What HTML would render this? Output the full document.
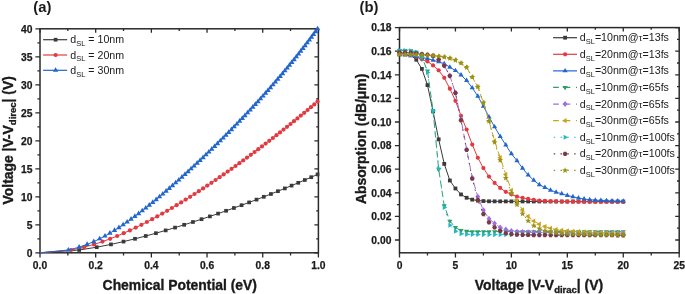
<!DOCTYPE html>
<html><head><meta charset="utf-8"><style>
html,body{margin:0;padding:0;background:#fff;}
svg{display:block;filter:blur(0.3px);}
text{font-family:"Liberation Sans",sans-serif;}
</style></head><body>
<svg width="685" height="294" viewBox="0 0 685 294">
<rect width="685" height="294" fill="#fff"/>
<path d="M40.00 252.8v4.6M40.00 28.8v4M95.68 252.8v4.6M95.68 28.8v4M151.36 252.8v4.6M151.36 28.8v4M207.04 252.8v4.6M207.04 28.8v4M262.72 252.8v4.6M262.72 28.8v4M318.40 252.8v4.6M318.40 28.8v4M67.84 252.8v2.6M67.84 28.8v2.2M123.52 252.8v2.6M123.52 28.8v2.2M179.20 252.8v2.6M179.20 28.8v2.2M234.88 252.8v2.6M234.88 28.8v2.2M290.56 252.8v2.6M290.56 28.8v2.2M35.4 252.80h4.6M318.4 252.80h-4M35.4 224.80h4.6M318.4 224.80h-4M35.4 196.80h4.6M318.4 196.80h-4M35.4 168.80h4.6M318.4 168.80h-4M35.4 140.80h4.6M318.4 140.80h-4M35.4 112.80h4.6M318.4 112.80h-4M35.4 84.80h4.6M318.4 84.80h-4M35.4 56.80h4.6M318.4 56.80h-4M35.4 28.80h4.6M318.4 28.80h-4M37.4 238.80h2.6M318.4 238.80h-2.2M37.4 210.80h2.6M318.4 210.80h-2.2M37.4 182.80h2.6M318.4 182.80h-2.2M37.4 154.80h2.6M318.4 154.80h-2.2M37.4 126.80h2.6M318.4 126.80h-2.2M37.4 98.80h2.6M318.4 98.80h-2.2M37.4 70.80h2.6M318.4 70.80h-2.2M37.4 42.80h2.6M318.4 42.80h-2.2" stroke="#2a2a2a" stroke-width="1.3" fill="none"/><rect x="40.0" y="28.8" width="278.40" height="224.00" fill="none" stroke="#2a2a2a" stroke-width="1.5"/>
<text x="32.4" y="256.50" text-anchor="end" font-weight="bold" font-size="10.3" fill="#1a1a1a" stroke="#1a1a1a" stroke-width="0.25">0</text>
<text x="32.4" y="228.50" text-anchor="end" font-weight="bold" font-size="10.3" fill="#1a1a1a" stroke="#1a1a1a" stroke-width="0.25">5</text>
<text x="32.4" y="200.50" text-anchor="end" font-weight="bold" font-size="10.3" fill="#1a1a1a" stroke="#1a1a1a" stroke-width="0.25">10</text>
<text x="32.4" y="172.50" text-anchor="end" font-weight="bold" font-size="10.3" fill="#1a1a1a" stroke="#1a1a1a" stroke-width="0.25">15</text>
<text x="32.4" y="144.50" text-anchor="end" font-weight="bold" font-size="10.3" fill="#1a1a1a" stroke="#1a1a1a" stroke-width="0.25">20</text>
<text x="32.4" y="116.50" text-anchor="end" font-weight="bold" font-size="10.3" fill="#1a1a1a" stroke="#1a1a1a" stroke-width="0.25">25</text>
<text x="32.4" y="88.50" text-anchor="end" font-weight="bold" font-size="10.3" fill="#1a1a1a" stroke="#1a1a1a" stroke-width="0.25">30</text>
<text x="32.4" y="60.50" text-anchor="end" font-weight="bold" font-size="10.3" fill="#1a1a1a" stroke="#1a1a1a" stroke-width="0.25">35</text>
<text x="32.4" y="32.50" text-anchor="end" font-weight="bold" font-size="10.3" fill="#1a1a1a" stroke="#1a1a1a" stroke-width="0.25">40</text>
<text x="40.00" y="269" text-anchor="middle" font-weight="bold" font-size="10.3" fill="#1a1a1a" stroke="#1a1a1a" stroke-width="0.25">0.0</text>
<text x="95.68" y="269" text-anchor="middle" font-weight="bold" font-size="10.3" fill="#1a1a1a" stroke="#1a1a1a" stroke-width="0.25">0.2</text>
<text x="151.36" y="269" text-anchor="middle" font-weight="bold" font-size="10.3" fill="#1a1a1a" stroke="#1a1a1a" stroke-width="0.25">0.4</text>
<text x="207.04" y="269" text-anchor="middle" font-weight="bold" font-size="10.3" fill="#1a1a1a" stroke="#1a1a1a" stroke-width="0.25">0.6</text>
<text x="262.72" y="269" text-anchor="middle" font-weight="bold" font-size="10.3" fill="#1a1a1a" stroke="#1a1a1a" stroke-width="0.25">0.8</text>
<text x="318.40" y="269" text-anchor="middle" font-weight="bold" font-size="10.3" fill="#1a1a1a" stroke="#1a1a1a" stroke-width="0.25">1.0</text>
<path d="M40.00 252.80L79.17 250.00L96.75 247.20L110.97 244.40L123.51 241.60L135.00 238.80L145.74 236.00L155.93 233.20L165.67 230.40L175.06 227.60L184.14 224.80L192.95 222.00L201.53 219.20L209.90 216.40L218.08 213.60L226.08 210.80L233.91 208.00L241.59 205.20L249.13 202.40L256.53 199.60L263.79 196.80L270.93 194.00L277.94 191.20L284.83 188.40L291.60 185.60L298.26 182.80L304.81 180.00L311.24 177.20L317.56 174.40" fill="none" stroke="#3a3a3a" stroke-width="1.0" stroke-linejoin="round"/>
<rect x="77.32" y="248.15" width="3.70" height="3.70" fill="#3a3a3a"/><rect x="94.90" y="245.35" width="3.70" height="3.70" fill="#3a3a3a"/><rect x="109.12" y="242.55" width="3.70" height="3.70" fill="#3a3a3a"/><rect x="121.66" y="239.75" width="3.70" height="3.70" fill="#3a3a3a"/><rect x="133.15" y="236.95" width="3.70" height="3.70" fill="#3a3a3a"/><rect x="143.89" y="234.15" width="3.70" height="3.70" fill="#3a3a3a"/><rect x="154.08" y="231.35" width="3.70" height="3.70" fill="#3a3a3a"/><rect x="163.82" y="228.55" width="3.70" height="3.70" fill="#3a3a3a"/><rect x="173.21" y="225.75" width="3.70" height="3.70" fill="#3a3a3a"/><rect x="182.29" y="222.95" width="3.70" height="3.70" fill="#3a3a3a"/><rect x="191.10" y="220.15" width="3.70" height="3.70" fill="#3a3a3a"/><rect x="199.68" y="217.35" width="3.70" height="3.70" fill="#3a3a3a"/><rect x="208.05" y="214.55" width="3.70" height="3.70" fill="#3a3a3a"/><rect x="216.23" y="211.75" width="3.70" height="3.70" fill="#3a3a3a"/><rect x="224.23" y="208.95" width="3.70" height="3.70" fill="#3a3a3a"/><rect x="232.06" y="206.15" width="3.70" height="3.70" fill="#3a3a3a"/><rect x="239.74" y="203.35" width="3.70" height="3.70" fill="#3a3a3a"/><rect x="247.28" y="200.55" width="3.70" height="3.70" fill="#3a3a3a"/><rect x="254.68" y="197.75" width="3.70" height="3.70" fill="#3a3a3a"/><rect x="261.94" y="194.95" width="3.70" height="3.70" fill="#3a3a3a"/><rect x="269.08" y="192.15" width="3.70" height="3.70" fill="#3a3a3a"/><rect x="276.09" y="189.35" width="3.70" height="3.70" fill="#3a3a3a"/><rect x="282.98" y="186.55" width="3.70" height="3.70" fill="#3a3a3a"/><rect x="289.75" y="183.75" width="3.70" height="3.70" fill="#3a3a3a"/><rect x="296.41" y="180.95" width="3.70" height="3.70" fill="#3a3a3a"/><rect x="302.96" y="178.15" width="3.70" height="3.70" fill="#3a3a3a"/><rect x="309.39" y="175.35" width="3.70" height="3.70" fill="#3a3a3a"/><rect x="315.71" y="172.55" width="3.70" height="3.70" fill="#3a3a3a"/>
<path d="M40.00 252.80L71.11 250.00L83.99 247.20L93.99 244.40L102.53 241.60L110.17 238.80L117.18 236.00L123.72 233.20L129.89 230.40L135.78 227.60L141.42 224.80L146.87 222.00L152.14 219.20L157.26 216.40L162.25 213.60L167.13 210.80L171.90 208.00L176.58 205.20L181.17 202.40L185.69 199.60L190.13 196.80L194.51 194.00L198.83 191.20L203.09 188.40L207.30 185.60L211.46 182.80L215.57 180.00L219.64 177.20L223.67 174.40L227.66 171.60L231.60 168.80L235.52 166.00L239.39 163.20L243.23 160.40L247.04 157.60L250.82 154.80L254.57 152.00L258.29 149.20L261.98 146.40L265.64 143.60L269.27 140.80L272.88 138.00L276.46 135.20L280.02 132.40L283.55 129.60L287.05 126.80L290.53 124.00L293.99 121.20L297.43 118.40L300.84 115.60L304.23 112.80L307.60 110.00L310.94 107.20L314.26 104.40L317.56 101.60" fill="none" stroke="#e23a40" stroke-width="1.0" stroke-linejoin="round"/>
<circle cx="71.11" cy="250.00" r="2.10" fill="#e23a40"/><circle cx="83.99" cy="247.20" r="2.10" fill="#e23a40"/><circle cx="93.99" cy="244.40" r="2.10" fill="#e23a40"/><circle cx="102.53" cy="241.60" r="2.10" fill="#e23a40"/><circle cx="110.17" cy="238.80" r="2.10" fill="#e23a40"/><circle cx="117.18" cy="236.00" r="2.10" fill="#e23a40"/><circle cx="123.72" cy="233.20" r="2.10" fill="#e23a40"/><circle cx="129.89" cy="230.40" r="2.10" fill="#e23a40"/><circle cx="135.78" cy="227.60" r="2.10" fill="#e23a40"/><circle cx="141.42" cy="224.80" r="2.10" fill="#e23a40"/><circle cx="146.87" cy="222.00" r="2.10" fill="#e23a40"/><circle cx="152.14" cy="219.20" r="2.10" fill="#e23a40"/><circle cx="157.26" cy="216.40" r="2.10" fill="#e23a40"/><circle cx="162.25" cy="213.60" r="2.10" fill="#e23a40"/><circle cx="167.13" cy="210.80" r="2.10" fill="#e23a40"/><circle cx="171.90" cy="208.00" r="2.10" fill="#e23a40"/><circle cx="176.58" cy="205.20" r="2.10" fill="#e23a40"/><circle cx="181.17" cy="202.40" r="2.10" fill="#e23a40"/><circle cx="185.69" cy="199.60" r="2.10" fill="#e23a40"/><circle cx="190.13" cy="196.80" r="2.10" fill="#e23a40"/><circle cx="194.51" cy="194.00" r="2.10" fill="#e23a40"/><circle cx="198.83" cy="191.20" r="2.10" fill="#e23a40"/><circle cx="203.09" cy="188.40" r="2.10" fill="#e23a40"/><circle cx="207.30" cy="185.60" r="2.10" fill="#e23a40"/><circle cx="211.46" cy="182.80" r="2.10" fill="#e23a40"/><circle cx="215.57" cy="180.00" r="2.10" fill="#e23a40"/><circle cx="219.64" cy="177.20" r="2.10" fill="#e23a40"/><circle cx="223.67" cy="174.40" r="2.10" fill="#e23a40"/><circle cx="227.66" cy="171.60" r="2.10" fill="#e23a40"/><circle cx="231.60" cy="168.80" r="2.10" fill="#e23a40"/><circle cx="235.52" cy="166.00" r="2.10" fill="#e23a40"/><circle cx="239.39" cy="163.20" r="2.10" fill="#e23a40"/><circle cx="243.23" cy="160.40" r="2.10" fill="#e23a40"/><circle cx="247.04" cy="157.60" r="2.10" fill="#e23a40"/><circle cx="250.82" cy="154.80" r="2.10" fill="#e23a40"/><circle cx="254.57" cy="152.00" r="2.10" fill="#e23a40"/><circle cx="258.29" cy="149.20" r="2.10" fill="#e23a40"/><circle cx="261.98" cy="146.40" r="2.10" fill="#e23a40"/><circle cx="265.64" cy="143.60" r="2.10" fill="#e23a40"/><circle cx="269.27" cy="140.80" r="2.10" fill="#e23a40"/><circle cx="272.88" cy="138.00" r="2.10" fill="#e23a40"/><circle cx="276.46" cy="135.20" r="2.10" fill="#e23a40"/><circle cx="280.02" cy="132.40" r="2.10" fill="#e23a40"/><circle cx="283.55" cy="129.60" r="2.10" fill="#e23a40"/><circle cx="287.05" cy="126.80" r="2.10" fill="#e23a40"/><circle cx="290.53" cy="124.00" r="2.10" fill="#e23a40"/><circle cx="293.99" cy="121.20" r="2.10" fill="#e23a40"/><circle cx="297.43" cy="118.40" r="2.10" fill="#e23a40"/><circle cx="300.84" cy="115.60" r="2.10" fill="#e23a40"/><circle cx="304.23" cy="112.80" r="2.10" fill="#e23a40"/><circle cx="307.60" cy="110.00" r="2.10" fill="#e23a40"/><circle cx="310.94" cy="107.20" r="2.10" fill="#e23a40"/><circle cx="314.26" cy="104.40" r="2.10" fill="#e23a40"/><circle cx="317.56" cy="101.60" r="2.10" fill="#e23a40"/>
<path d="M40.00 252.80L68.44 250.00L79.13 247.20L87.13 244.40L93.79 241.60L99.65 238.80L104.97 236.00L109.89 233.20L114.52 230.40L118.91 227.60L123.11 224.80L127.16 222.00L131.08 219.20L134.89 216.40L138.60 213.60L142.24 210.80L145.80 208.00L149.31 205.20L152.75 202.40L156.15 199.60L159.50 196.80L162.80 194.00L166.07 191.20L169.31 188.40L172.51 185.60L175.68 182.80L178.82 180.00L181.93 177.20L185.02 174.40L188.08 171.60L191.11 168.80L194.13 166.00L197.12 163.20L200.09 160.40L203.04 157.60L205.97 154.80L208.88 152.00L211.77 149.20L214.63 146.40L217.48 143.60L220.31 140.80L223.12 138.00L225.92 135.20L228.69 132.40L231.44 129.60L234.18 126.80L236.90 124.00L239.59 121.20L242.27 118.40L244.94 115.60L247.58 112.80L250.20 110.00L252.80 107.20L255.39 104.40L257.96 101.60L260.50 98.80L263.03 96.00L265.54 93.20L268.03 90.40L270.50 87.60L272.95 84.80L275.38 82.00L277.79 79.20L280.17 76.40L282.54 73.60L284.89 70.80L287.22 68.00L289.53 65.20L291.81 62.40L294.08 59.60L296.32 56.80L298.55 54.00L300.75 51.20L302.93 48.40L305.08 45.60L307.22 42.80L309.33 40.00L311.43 37.20L313.49 34.40L315.54 31.60L317.56 28.80" fill="none" stroke="#2266cc" stroke-width="1.0" stroke-linejoin="round"/>
<path d="M68.44 246.90L71.12 251.55L65.76 251.55Z" fill="#2266cc"/><path d="M79.13 244.10L81.82 248.75L76.45 248.75Z" fill="#2266cc"/><path d="M87.13 241.30L89.81 245.95L84.44 245.95Z" fill="#2266cc"/><path d="M93.79 238.50L96.48 243.15L91.11 243.15Z" fill="#2266cc"/><path d="M99.65 235.70L102.34 240.35L96.97 240.35Z" fill="#2266cc"/><path d="M104.97 232.90L107.65 237.55L102.28 237.55Z" fill="#2266cc"/><path d="M109.89 230.10L112.58 234.75L107.21 234.75Z" fill="#2266cc"/><path d="M114.52 227.30L117.20 231.95L111.83 231.95Z" fill="#2266cc"/><path d="M118.91 224.50L121.59 229.15L116.22 229.15Z" fill="#2266cc"/><path d="M123.11 221.70L125.79 226.35L120.42 226.35Z" fill="#2266cc"/><path d="M127.16 218.90L129.84 223.55L124.47 223.55Z" fill="#2266cc"/><path d="M131.08 216.10L133.76 220.75L128.39 220.75Z" fill="#2266cc"/><path d="M134.89 213.30L137.57 217.95L132.20 217.95Z" fill="#2266cc"/><path d="M138.60 210.50L141.29 215.15L135.92 215.15Z" fill="#2266cc"/><path d="M142.24 207.70L144.92 212.35L139.56 212.35Z" fill="#2266cc"/><path d="M145.80 204.90L148.49 209.55L143.12 209.55Z" fill="#2266cc"/><path d="M149.31 202.10L151.99 206.75L146.62 206.75Z" fill="#2266cc"/><path d="M152.75 199.30L155.44 203.95L150.07 203.95Z" fill="#2266cc"/><path d="M156.15 196.50L158.83 201.15L153.46 201.15Z" fill="#2266cc"/><path d="M159.50 193.70L162.18 198.35L156.81 198.35Z" fill="#2266cc"/><path d="M162.80 190.90L165.49 195.55L160.12 195.55Z" fill="#2266cc"/><path d="M166.07 188.10L168.76 192.75L163.39 192.75Z" fill="#2266cc"/><path d="M169.31 185.30L171.99 189.95L166.62 189.95Z" fill="#2266cc"/><path d="M172.51 182.50L175.19 187.15L169.82 187.15Z" fill="#2266cc"/><path d="M175.68 179.70L178.36 184.35L172.99 184.35Z" fill="#2266cc"/><path d="M178.82 176.90L181.50 181.55L176.13 181.55Z" fill="#2266cc"/><path d="M181.93 174.10L184.61 178.75L179.24 178.75Z" fill="#2266cc"/><path d="M185.02 171.30L187.70 175.95L182.33 175.95Z" fill="#2266cc"/><path d="M188.08 168.50L190.76 173.15L185.39 173.15Z" fill="#2266cc"/><path d="M191.11 165.70L193.80 170.35L188.43 170.35Z" fill="#2266cc"/><path d="M194.13 162.90L196.81 167.55L191.44 167.55Z" fill="#2266cc"/><path d="M197.12 160.10L199.81 164.75L194.44 164.75Z" fill="#2266cc"/><path d="M200.09 157.30L202.78 161.95L197.41 161.95Z" fill="#2266cc"/><path d="M203.04 154.50L205.73 159.15L200.36 159.15Z" fill="#2266cc"/><path d="M205.97 151.70L208.65 156.35L203.28 156.35Z" fill="#2266cc"/><path d="M208.88 148.90L211.56 153.55L206.19 153.55Z" fill="#2266cc"/><path d="M211.77 146.10L214.45 150.75L209.08 150.75Z" fill="#2266cc"/><path d="M214.63 143.30L217.32 147.95L211.95 147.95Z" fill="#2266cc"/><path d="M217.48 140.50L220.17 145.15L214.80 145.15Z" fill="#2266cc"/><path d="M220.31 137.70L223.00 142.35L217.63 142.35Z" fill="#2266cc"/><path d="M223.12 134.90L225.81 139.55L220.44 139.55Z" fill="#2266cc"/><path d="M225.92 132.10L228.60 136.75L223.23 136.75Z" fill="#2266cc"/><path d="M228.69 129.30L231.37 133.95L226.00 133.95Z" fill="#2266cc"/><path d="M231.44 126.50L234.13 131.15L228.76 131.15Z" fill="#2266cc"/><path d="M234.18 123.70L236.86 128.35L231.49 128.35Z" fill="#2266cc"/><path d="M236.90 120.90L239.58 125.55L234.21 125.55Z" fill="#2266cc"/><path d="M239.59 118.10L242.28 122.75L236.91 122.75Z" fill="#2266cc"/><path d="M242.27 115.30L244.96 119.95L239.59 119.95Z" fill="#2266cc"/><path d="M244.94 112.50L247.62 117.15L242.25 117.15Z" fill="#2266cc"/><path d="M247.58 109.70L250.26 114.35L244.89 114.35Z" fill="#2266cc"/><path d="M250.20 106.90L252.88 111.55L247.52 111.55Z" fill="#2266cc"/><path d="M252.80 104.10L255.49 108.75L250.12 108.75Z" fill="#2266cc"/><path d="M255.39 101.30L258.07 105.95L252.71 105.95Z" fill="#2266cc"/><path d="M257.96 98.50L260.64 103.15L255.27 103.15Z" fill="#2266cc"/><path d="M260.50 95.70L263.19 100.35L257.82 100.35Z" fill="#2266cc"/><path d="M263.03 92.90L265.72 97.55L260.35 97.55Z" fill="#2266cc"/><path d="M265.54 90.10L268.22 94.75L262.85 94.75Z" fill="#2266cc"/><path d="M268.03 87.30L270.71 91.95L265.34 91.95Z" fill="#2266cc"/><path d="M270.50 84.50L273.18 89.15L267.81 89.15Z" fill="#2266cc"/><path d="M272.95 81.70L275.63 86.35L270.26 86.35Z" fill="#2266cc"/><path d="M275.38 78.90L278.06 83.55L272.69 83.55Z" fill="#2266cc"/><path d="M277.79 76.10L280.47 80.75L275.10 80.75Z" fill="#2266cc"/><path d="M280.17 73.30L282.86 77.95L277.49 77.95Z" fill="#2266cc"/><path d="M282.54 70.50L285.23 75.15L279.86 75.15Z" fill="#2266cc"/><path d="M284.89 67.70L287.58 72.35L282.21 72.35Z" fill="#2266cc"/><path d="M287.22 64.90L289.90 69.55L284.54 69.55Z" fill="#2266cc"/><path d="M289.53 62.10L292.21 66.75L286.84 66.75Z" fill="#2266cc"/><path d="M291.81 59.30L294.50 63.95L289.13 63.95Z" fill="#2266cc"/><path d="M294.08 56.50L296.76 61.15L291.39 61.15Z" fill="#2266cc"/><path d="M296.32 53.70L299.01 58.35L293.64 58.35Z" fill="#2266cc"/><path d="M298.55 50.90L301.23 55.55L295.86 55.55Z" fill="#2266cc"/><path d="M300.75 48.10L303.43 52.75L298.06 52.75Z" fill="#2266cc"/><path d="M302.93 45.30L305.61 49.95L300.24 49.95Z" fill="#2266cc"/><path d="M305.08 42.50L307.77 47.15L302.40 47.15Z" fill="#2266cc"/><path d="M307.22 39.70L309.90 44.35L304.54 44.35Z" fill="#2266cc"/><path d="M309.33 36.90L312.02 41.55L306.65 41.55Z" fill="#2266cc"/><path d="M311.43 34.10L314.11 38.75L308.74 38.75Z" fill="#2266cc"/><path d="M313.49 31.30L316.18 35.95L310.81 35.95Z" fill="#2266cc"/><path d="M315.54 28.50L318.23 33.15L312.86 33.15Z" fill="#2266cc"/><path d="M317.56 25.70L320.25 30.35L314.88 30.35Z" fill="#2266cc"/>
<line x1="43.1" y1="39.7" x2="67.2" y2="39.7" stroke="#3a3a3a" stroke-width="1.2"/>
<rect x="53.75" y="37.85" width="3.70" height="3.70" fill="#3a3a3a"/>
<text x="70.3" y="43.30" font-size="10.65" fill="#1a1a1a">d<tspan font-size="7.5" dy="2.8">SL</tspan><tspan dy="-2.8"> = 10nm</tspan></text>
<line x1="43.1" y1="55.0" x2="67.2" y2="55.0" stroke="#e23a40" stroke-width="1.2"/>
<circle cx="55.60" cy="55.00" r="2.10" fill="#e23a40"/>
<text x="70.3" y="58.60" font-size="10.65" fill="#1a1a1a">d<tspan font-size="7.5" dy="2.8">SL</tspan><tspan dy="-2.8"> = 20nm</tspan></text>
<line x1="43.1" y1="70.30000000000001" x2="67.2" y2="70.30000000000001" stroke="#2266cc" stroke-width="1.2"/>
<path d="M55.60 67.20L58.28 71.85L52.92 71.85Z" fill="#2266cc"/>
<text x="70.3" y="73.90" font-size="10.65" fill="#1a1a1a">d<tspan font-size="7.5" dy="2.8">SL</tspan><tspan dy="-2.8"> = 30nm</tspan></text>
<path d="M399.50 252.8v4.6M399.50 27.6v4M455.44 252.8v4.6M455.44 27.6v4M511.38 252.8v4.6M511.38 27.6v4M567.32 252.8v4.6M567.32 27.6v4M623.26 252.8v4.6M623.26 27.6v4M679.20 252.8v4.6M679.20 27.6v4M427.47 252.8v2.6M427.47 27.6v2.2M483.41 252.8v2.6M483.41 27.6v2.2M539.35 252.8v2.6M539.35 27.6v2.2M595.29 252.8v2.6M595.29 27.6v2.2M651.23 252.8v2.6M651.23 27.6v2.2M394.9 240.00h4.6M679.2 240.00h-4M394.9 216.40h4.6M679.2 216.40h-4M394.9 192.80h4.6M679.2 192.80h-4M394.9 169.20h4.6M679.2 169.20h-4M394.9 145.60h4.6M679.2 145.60h-4M394.9 122.00h4.6M679.2 122.00h-4M394.9 98.40h4.6M679.2 98.40h-4M394.9 74.80h4.6M679.2 74.80h-4M394.9 51.20h4.6M679.2 51.20h-4M394.9 27.60h4.6M679.2 27.60h-4M396.9 228.20h2.6M679.2 228.20h-2.2M396.9 204.60h2.6M679.2 204.60h-2.2M396.9 181.00h2.6M679.2 181.00h-2.2M396.9 157.40h2.6M679.2 157.40h-2.2M396.9 133.80h2.6M679.2 133.80h-2.2M396.9 110.20h2.6M679.2 110.20h-2.2M396.9 86.60h2.6M679.2 86.60h-2.2M396.9 63.00h2.6M679.2 63.00h-2.2M396.9 39.40h2.6M679.2 39.40h-2.2" stroke="#2a2a2a" stroke-width="1.3" fill="none"/><rect x="399.5" y="27.6" width="279.70" height="225.20" fill="none" stroke="#2a2a2a" stroke-width="1.5"/>
<text x="391.4" y="243.70" text-anchor="end" font-weight="bold" font-size="10.3" fill="#1a1a1a" stroke="#1a1a1a" stroke-width="0.25">0.00</text>
<text x="391.4" y="220.10" text-anchor="end" font-weight="bold" font-size="10.3" fill="#1a1a1a" stroke="#1a1a1a" stroke-width="0.25">0.02</text>
<text x="391.4" y="196.50" text-anchor="end" font-weight="bold" font-size="10.3" fill="#1a1a1a" stroke="#1a1a1a" stroke-width="0.25">0.04</text>
<text x="391.4" y="172.90" text-anchor="end" font-weight="bold" font-size="10.3" fill="#1a1a1a" stroke="#1a1a1a" stroke-width="0.25">0.06</text>
<text x="391.4" y="149.30" text-anchor="end" font-weight="bold" font-size="10.3" fill="#1a1a1a" stroke="#1a1a1a" stroke-width="0.25">0.08</text>
<text x="391.4" y="125.70" text-anchor="end" font-weight="bold" font-size="10.3" fill="#1a1a1a" stroke="#1a1a1a" stroke-width="0.25">0.10</text>
<text x="391.4" y="102.10" text-anchor="end" font-weight="bold" font-size="10.3" fill="#1a1a1a" stroke="#1a1a1a" stroke-width="0.25">0.12</text>
<text x="391.4" y="78.50" text-anchor="end" font-weight="bold" font-size="10.3" fill="#1a1a1a" stroke="#1a1a1a" stroke-width="0.25">0.14</text>
<text x="391.4" y="54.90" text-anchor="end" font-weight="bold" font-size="10.3" fill="#1a1a1a" stroke="#1a1a1a" stroke-width="0.25">0.16</text>
<text x="391.4" y="31.30" text-anchor="end" font-weight="bold" font-size="10.3" fill="#1a1a1a" stroke="#1a1a1a" stroke-width="0.25">0.18</text>
<text x="399.50" y="269" text-anchor="middle" font-weight="bold" font-size="10.3" fill="#1a1a1a" stroke="#1a1a1a" stroke-width="0.25">0</text>
<text x="455.44" y="269" text-anchor="middle" font-weight="bold" font-size="10.3" fill="#1a1a1a" stroke="#1a1a1a" stroke-width="0.25">5</text>
<text x="511.38" y="269" text-anchor="middle" font-weight="bold" font-size="10.3" fill="#1a1a1a" stroke="#1a1a1a" stroke-width="0.25">10</text>
<text x="567.32" y="269" text-anchor="middle" font-weight="bold" font-size="10.3" fill="#1a1a1a" stroke="#1a1a1a" stroke-width="0.25">15</text>
<text x="623.26" y="269" text-anchor="middle" font-weight="bold" font-size="10.3" fill="#1a1a1a" stroke="#1a1a1a" stroke-width="0.25">20</text>
<text x="679.20" y="269" text-anchor="middle" font-weight="bold" font-size="10.3" fill="#1a1a1a" stroke="#1a1a1a" stroke-width="0.25">25</text>
<g>
<path d="M399.50 53.56L405.09 54.03L410.69 55.21L416.28 59.72L421.88 68.88L427.47 85.11L433.06 111.38L438.66 139.35L444.25 163.89L449.85 180.49L455.44 188.49L461.03 194.45L466.63 197.76L472.22 199.64L477.82 200.59L483.41 201.06L489.00 201.30L494.60 201.35L500.19 201.38L505.79 201.40L511.38 201.41L516.97 201.43L522.57 201.44L528.16 201.45L533.76 201.46L539.35 201.46L544.94 201.47L550.54 201.48L556.13 201.49L561.73 201.50L567.32 201.50L572.91 201.51L578.51 201.51L584.10 201.52L589.70 201.52L595.29 201.52L600.88 201.53L606.48 201.53L612.07 201.53L617.67 201.53L623.26 201.53" fill="none" stroke="#3a3a3a" stroke-width="1.0" stroke-linejoin="round"/>
<rect x="397.60" y="51.66" width="3.80" height="3.80" fill="#3a3a3a"/><rect x="403.19" y="52.13" width="3.80" height="3.80" fill="#3a3a3a"/><rect x="408.79" y="53.31" width="3.80" height="3.80" fill="#3a3a3a"/><rect x="414.38" y="57.82" width="3.80" height="3.80" fill="#3a3a3a"/><rect x="419.98" y="66.98" width="3.80" height="3.80" fill="#3a3a3a"/><rect x="425.57" y="83.21" width="3.80" height="3.80" fill="#3a3a3a"/><rect x="431.16" y="109.48" width="3.80" height="3.80" fill="#3a3a3a"/><rect x="436.76" y="137.45" width="3.80" height="3.80" fill="#3a3a3a"/><rect x="442.35" y="161.99" width="3.80" height="3.80" fill="#3a3a3a"/><rect x="447.95" y="178.59" width="3.80" height="3.80" fill="#3a3a3a"/><rect x="453.54" y="186.59" width="3.80" height="3.80" fill="#3a3a3a"/><rect x="459.13" y="192.55" width="3.80" height="3.80" fill="#3a3a3a"/><rect x="464.73" y="195.86" width="3.80" height="3.80" fill="#3a3a3a"/><rect x="470.32" y="197.74" width="3.80" height="3.80" fill="#3a3a3a"/><rect x="475.92" y="198.69" width="3.80" height="3.80" fill="#3a3a3a"/><rect x="481.51" y="199.16" width="3.80" height="3.80" fill="#3a3a3a"/><rect x="487.10" y="199.40" width="3.80" height="3.80" fill="#3a3a3a"/><rect x="492.70" y="199.45" width="3.80" height="3.80" fill="#3a3a3a"/><rect x="498.29" y="199.48" width="3.80" height="3.80" fill="#3a3a3a"/><rect x="503.89" y="199.50" width="3.80" height="3.80" fill="#3a3a3a"/><rect x="509.48" y="199.51" width="3.80" height="3.80" fill="#3a3a3a"/><rect x="515.07" y="199.53" width="3.80" height="3.80" fill="#3a3a3a"/><rect x="520.67" y="199.54" width="3.80" height="3.80" fill="#3a3a3a"/><rect x="526.26" y="199.55" width="3.80" height="3.80" fill="#3a3a3a"/><rect x="531.86" y="199.56" width="3.80" height="3.80" fill="#3a3a3a"/><rect x="537.45" y="199.56" width="3.80" height="3.80" fill="#3a3a3a"/><rect x="543.04" y="199.57" width="3.80" height="3.80" fill="#3a3a3a"/><rect x="548.64" y="199.58" width="3.80" height="3.80" fill="#3a3a3a"/><rect x="554.23" y="199.59" width="3.80" height="3.80" fill="#3a3a3a"/><rect x="559.83" y="199.60" width="3.80" height="3.80" fill="#3a3a3a"/><rect x="565.42" y="199.60" width="3.80" height="3.80" fill="#3a3a3a"/><rect x="571.01" y="199.61" width="3.80" height="3.80" fill="#3a3a3a"/><rect x="576.61" y="199.61" width="3.80" height="3.80" fill="#3a3a3a"/><rect x="582.20" y="199.62" width="3.80" height="3.80" fill="#3a3a3a"/><rect x="587.80" y="199.62" width="3.80" height="3.80" fill="#3a3a3a"/><rect x="593.39" y="199.62" width="3.80" height="3.80" fill="#3a3a3a"/><rect x="598.98" y="199.63" width="3.80" height="3.80" fill="#3a3a3a"/><rect x="604.58" y="199.63" width="3.80" height="3.80" fill="#3a3a3a"/><rect x="610.17" y="199.63" width="3.80" height="3.80" fill="#3a3a3a"/><rect x="615.77" y="199.63" width="3.80" height="3.80" fill="#3a3a3a"/><rect x="621.36" y="199.63" width="3.80" height="3.80" fill="#3a3a3a"/>
<path d="M399.50 53.56L405.09 54.00L410.69 54.98L416.28 56.88L421.88 59.34L427.47 61.47L433.06 65.38L438.66 70.32L444.25 77.81L449.85 88.70L455.44 100.83L461.03 115.77L466.63 129.50L472.22 144.54L477.82 157.75L483.41 168.12L489.00 176.60L494.60 182.91L500.19 187.96L505.79 191.86L511.38 194.33L516.97 196.58L522.57 197.87L528.16 198.82L533.76 199.76L539.35 200.59L544.94 200.97L550.54 201.24L556.13 201.41L561.73 201.54L567.32 201.65L572.91 201.72L578.51 201.77L584.10 201.79L589.70 201.82L595.29 201.84L600.88 201.85L606.48 201.87L612.07 201.88L617.67 201.88L623.26 201.89" fill="none" stroke="#e23a40" stroke-width="1.0" stroke-linejoin="round"/>
<circle cx="399.50" cy="53.56" r="2.10" fill="#e23a40"/><circle cx="405.09" cy="54.00" r="2.10" fill="#e23a40"/><circle cx="410.69" cy="54.98" r="2.10" fill="#e23a40"/><circle cx="416.28" cy="56.88" r="2.10" fill="#e23a40"/><circle cx="421.88" cy="59.34" r="2.10" fill="#e23a40"/><circle cx="427.47" cy="61.47" r="2.10" fill="#e23a40"/><circle cx="433.06" cy="65.38" r="2.10" fill="#e23a40"/><circle cx="438.66" cy="70.32" r="2.10" fill="#e23a40"/><circle cx="444.25" cy="77.81" r="2.10" fill="#e23a40"/><circle cx="449.85" cy="88.70" r="2.10" fill="#e23a40"/><circle cx="455.44" cy="100.83" r="2.10" fill="#e23a40"/><circle cx="461.03" cy="115.77" r="2.10" fill="#e23a40"/><circle cx="466.63" cy="129.50" r="2.10" fill="#e23a40"/><circle cx="472.22" cy="144.54" r="2.10" fill="#e23a40"/><circle cx="477.82" cy="157.75" r="2.10" fill="#e23a40"/><circle cx="483.41" cy="168.12" r="2.10" fill="#e23a40"/><circle cx="489.00" cy="176.60" r="2.10" fill="#e23a40"/><circle cx="494.60" cy="182.91" r="2.10" fill="#e23a40"/><circle cx="500.19" cy="187.96" r="2.10" fill="#e23a40"/><circle cx="505.79" cy="191.86" r="2.10" fill="#e23a40"/><circle cx="511.38" cy="194.33" r="2.10" fill="#e23a40"/><circle cx="516.97" cy="196.58" r="2.10" fill="#e23a40"/><circle cx="522.57" cy="197.87" r="2.10" fill="#e23a40"/><circle cx="528.16" cy="198.82" r="2.10" fill="#e23a40"/><circle cx="533.76" cy="199.76" r="2.10" fill="#e23a40"/><circle cx="539.35" cy="200.59" r="2.10" fill="#e23a40"/><circle cx="544.94" cy="200.97" r="2.10" fill="#e23a40"/><circle cx="550.54" cy="201.24" r="2.10" fill="#e23a40"/><circle cx="556.13" cy="201.41" r="2.10" fill="#e23a40"/><circle cx="561.73" cy="201.54" r="2.10" fill="#e23a40"/><circle cx="567.32" cy="201.65" r="2.10" fill="#e23a40"/><circle cx="572.91" cy="201.72" r="2.10" fill="#e23a40"/><circle cx="578.51" cy="201.77" r="2.10" fill="#e23a40"/><circle cx="584.10" cy="201.79" r="2.10" fill="#e23a40"/><circle cx="589.70" cy="201.82" r="2.10" fill="#e23a40"/><circle cx="595.29" cy="201.84" r="2.10" fill="#e23a40"/><circle cx="600.88" cy="201.85" r="2.10" fill="#e23a40"/><circle cx="606.48" cy="201.87" r="2.10" fill="#e23a40"/><circle cx="612.07" cy="201.88" r="2.10" fill="#e23a40"/><circle cx="617.67" cy="201.88" r="2.10" fill="#e23a40"/><circle cx="623.26" cy="201.89" r="2.10" fill="#e23a40"/>
<path d="M399.50 54.74L405.09 55.11L410.69 55.68L416.28 56.55L421.88 57.45L427.47 58.63L433.06 60.27L438.66 61.80L444.25 63.64L449.85 67.15L455.44 70.63L461.03 75.02L466.63 80.53L472.22 87.86L477.82 96.20L483.41 106.20L489.00 116.95L494.60 126.87L500.19 136.39L505.79 144.94L511.38 153.83L516.97 160.66L522.57 168.25L528.16 175.10L533.76 180.29L539.35 184.74L544.94 187.49L550.54 190.20L556.13 192.21L561.73 193.74L567.32 195.40L572.91 196.84L578.51 198.05L584.10 199.05L589.70 199.71L595.29 200.15L600.88 200.47L606.48 200.72L612.07 200.94L617.67 201.10L623.26 201.18" fill="none" stroke="#2266cc" stroke-width="1.0" stroke-linejoin="round"/>
<path d="M399.50 51.76L402.08 56.23L396.92 56.23Z" fill="#2266cc"/><path d="M405.09 52.13L407.67 56.59L402.52 56.59Z" fill="#2266cc"/><path d="M410.69 52.71L413.27 57.17L408.11 57.17Z" fill="#2266cc"/><path d="M416.28 53.57L418.86 58.03L413.70 58.03Z" fill="#2266cc"/><path d="M421.88 54.48L424.45 58.94L419.30 58.94Z" fill="#2266cc"/><path d="M427.47 55.66L430.05 60.12L424.89 60.12Z" fill="#2266cc"/><path d="M433.06 57.30L435.64 61.76L430.49 61.76Z" fill="#2266cc"/><path d="M438.66 58.82L441.24 63.29L436.08 63.29Z" fill="#2266cc"/><path d="M444.25 60.66L446.83 65.13L441.67 65.13Z" fill="#2266cc"/><path d="M449.85 64.17L452.42 68.64L447.27 68.64Z" fill="#2266cc"/><path d="M455.44 67.65L458.02 72.11L452.86 72.11Z" fill="#2266cc"/><path d="M461.03 72.04L463.61 76.51L458.46 76.51Z" fill="#2266cc"/><path d="M466.63 77.55L469.21 82.01L464.05 82.01Z" fill="#2266cc"/><path d="M472.22 84.89L474.80 89.35L469.64 89.35Z" fill="#2266cc"/><path d="M477.82 93.22L480.39 97.69L475.24 97.69Z" fill="#2266cc"/><path d="M483.41 103.22L485.99 107.69L480.83 107.69Z" fill="#2266cc"/><path d="M489.00 113.98L491.58 118.44L486.43 118.44Z" fill="#2266cc"/><path d="M494.60 123.89L497.18 128.36L492.02 128.36Z" fill="#2266cc"/><path d="M500.19 133.41L502.77 137.88L497.61 137.88Z" fill="#2266cc"/><path d="M505.79 141.96L508.36 146.43L503.21 146.43Z" fill="#2266cc"/><path d="M511.38 150.86L513.96 155.32L508.80 155.32Z" fill="#2266cc"/><path d="M516.97 157.68L519.55 162.15L514.40 162.15Z" fill="#2266cc"/><path d="M522.57 165.27L525.15 169.74L519.99 169.74Z" fill="#2266cc"/><path d="M528.16 172.12L530.74 176.59L525.58 176.59Z" fill="#2266cc"/><path d="M533.76 177.32L536.33 181.78L531.18 181.78Z" fill="#2266cc"/><path d="M539.35 181.77L541.93 186.23L536.77 186.23Z" fill="#2266cc"/><path d="M544.94 184.51L547.52 188.98L542.37 188.98Z" fill="#2266cc"/><path d="M550.54 187.23L553.12 191.69L547.96 191.69Z" fill="#2266cc"/><path d="M556.13 189.23L558.71 193.70L553.55 193.70Z" fill="#2266cc"/><path d="M561.73 190.77L564.30 195.23L559.15 195.23Z" fill="#2266cc"/><path d="M567.32 192.42L569.90 196.88L564.74 196.88Z" fill="#2266cc"/><path d="M572.91 193.87L575.49 198.33L570.34 198.33Z" fill="#2266cc"/><path d="M578.51 195.07L581.09 199.54L575.93 199.54Z" fill="#2266cc"/><path d="M584.10 196.08L586.68 200.54L581.52 200.54Z" fill="#2266cc"/><path d="M589.70 196.73L592.27 201.20L587.12 201.20Z" fill="#2266cc"/><path d="M595.29 197.18L597.87 201.64L592.71 201.64Z" fill="#2266cc"/><path d="M600.88 197.49L603.46 201.96L598.31 201.96Z" fill="#2266cc"/><path d="M606.48 197.74L609.06 202.21L603.90 202.21Z" fill="#2266cc"/><path d="M612.07 197.96L614.65 202.43L609.49 202.43Z" fill="#2266cc"/><path d="M617.67 198.12L620.24 202.59L615.09 202.59Z" fill="#2266cc"/><path d="M623.26 198.20L625.84 202.67L620.68 202.67Z" fill="#2266cc"/>
<path d="M399.50 50.37L405.09 50.46L410.69 50.73L416.28 52.14L421.88 57.10L427.47 70.98L433.06 110.91L438.66 169.19L444.25 205.65L449.85 221.12L455.44 227.52L461.03 230.56L466.63 231.32L472.22 231.62L477.82 231.62L483.41 231.62L489.00 231.62L494.60 231.62L500.19 231.62L505.79 231.62L511.38 231.62L516.97 231.62L522.57 231.62L528.16 231.62L533.76 231.62L539.35 231.62L544.94 231.62L550.54 231.62L556.13 231.62L561.73 231.62L567.32 231.62L572.91 231.62L578.51 231.62L584.10 231.62L589.70 231.62L595.29 231.62L600.88 231.62L606.48 231.62L612.07 231.62L617.67 231.62L623.26 231.62" fill="none" stroke="#2f9e68" stroke-width="1.0" stroke-dasharray="6.5,3.5" stroke-linejoin="round"/>
<path d="M399.50 53.35L402.08 48.89L396.92 48.89Z" fill="#2f9e68"/><path d="M405.09 53.44L407.67 48.98L402.52 48.98Z" fill="#2f9e68"/><path d="M410.69 53.70L413.27 49.24L408.11 49.24Z" fill="#2f9e68"/><path d="M416.28 55.12L418.86 50.66L413.70 50.66Z" fill="#2f9e68"/><path d="M421.88 60.08L424.45 55.61L419.30 55.61Z" fill="#2f9e68"/><path d="M427.47 73.96L430.05 69.50L424.89 69.50Z" fill="#2f9e68"/><path d="M433.06 113.88L435.64 109.42L430.49 109.42Z" fill="#2f9e68"/><path d="M438.66 172.17L441.24 167.70L436.08 167.70Z" fill="#2f9e68"/><path d="M444.25 208.63L446.83 204.16L441.67 204.16Z" fill="#2f9e68"/><path d="M449.85 224.10L452.42 219.63L447.27 219.63Z" fill="#2f9e68"/><path d="M455.44 230.49L458.02 226.03L452.86 226.03Z" fill="#2f9e68"/><path d="M461.03 233.54L463.61 229.07L458.46 229.07Z" fill="#2f9e68"/><path d="M466.63 234.29L469.21 229.83L464.05 229.83Z" fill="#2f9e68"/><path d="M472.22 234.60L474.80 230.13L469.64 230.13Z" fill="#2f9e68"/><path d="M477.82 234.60L480.39 230.13L475.24 230.13Z" fill="#2f9e68"/><path d="M483.41 234.60L485.99 230.13L480.83 230.13Z" fill="#2f9e68"/><path d="M489.00 234.60L491.58 230.13L486.43 230.13Z" fill="#2f9e68"/><path d="M494.60 234.60L497.18 230.13L492.02 230.13Z" fill="#2f9e68"/><path d="M500.19 234.60L502.77 230.13L497.61 230.13Z" fill="#2f9e68"/><path d="M505.79 234.60L508.36 230.13L503.21 230.13Z" fill="#2f9e68"/><path d="M511.38 234.60L513.96 230.13L508.80 230.13Z" fill="#2f9e68"/><path d="M516.97 234.60L519.55 230.13L514.40 230.13Z" fill="#2f9e68"/><path d="M522.57 234.60L525.15 230.13L519.99 230.13Z" fill="#2f9e68"/><path d="M528.16 234.60L530.74 230.13L525.58 230.13Z" fill="#2f9e68"/><path d="M533.76 234.60L536.33 230.13L531.18 230.13Z" fill="#2f9e68"/><path d="M539.35 234.60L541.93 230.13L536.77 230.13Z" fill="#2f9e68"/><path d="M544.94 234.60L547.52 230.13L542.37 230.13Z" fill="#2f9e68"/><path d="M550.54 234.60L553.12 230.13L547.96 230.13Z" fill="#2f9e68"/><path d="M556.13 234.60L558.71 230.13L553.55 230.13Z" fill="#2f9e68"/><path d="M561.73 234.60L564.30 230.13L559.15 230.13Z" fill="#2f9e68"/><path d="M567.32 234.60L569.90 230.13L564.74 230.13Z" fill="#2f9e68"/><path d="M572.91 234.60L575.49 230.13L570.34 230.13Z" fill="#2f9e68"/><path d="M578.51 234.60L581.09 230.13L575.93 230.13Z" fill="#2f9e68"/><path d="M584.10 234.60L586.68 230.13L581.52 230.13Z" fill="#2f9e68"/><path d="M589.70 234.60L592.27 230.13L587.12 230.13Z" fill="#2f9e68"/><path d="M595.29 234.60L597.87 230.13L592.71 230.13Z" fill="#2f9e68"/><path d="M600.88 234.60L603.46 230.13L598.31 230.13Z" fill="#2f9e68"/><path d="M606.48 234.60L609.06 230.13L603.90 230.13Z" fill="#2f9e68"/><path d="M612.07 234.60L614.65 230.13L609.49 230.13Z" fill="#2f9e68"/><path d="M617.67 234.60L620.24 230.13L615.09 230.13Z" fill="#2f9e68"/><path d="M623.26 234.60L625.84 230.13L620.68 230.13Z" fill="#2f9e68"/>
<path d="M399.50 52.38L405.09 52.45L410.69 52.62L416.28 53.23L421.88 54.15L427.47 54.86L433.06 55.92L438.66 59.62L444.25 65.75L449.85 75.80L455.44 92.91L461.03 119.56L466.63 149.18L472.22 177.63L477.82 196.66L483.41 210.34L489.00 218.66L494.60 223.51L500.19 227.42L505.79 229.49L511.38 231.03L516.97 231.64L522.57 231.98L528.16 232.19L533.76 232.36L539.35 232.48L544.94 232.57L550.54 232.63L556.13 232.68L561.73 232.74L567.32 232.79L572.91 232.83L578.51 232.87L584.10 232.91L589.70 232.94L595.29 232.97L600.88 233.00L606.48 233.01L612.07 233.03L617.67 233.04L623.26 233.04" fill="none" stroke="#9c6ee0" stroke-width="1.0" stroke-dasharray="6.5,3.5" stroke-linejoin="round"/>
<path d="M399.50 49.40L401.88 52.38L399.50 55.36L397.12 52.38Z" fill="#9c6ee0"/><path d="M405.09 49.47L407.47 52.45L405.09 55.42L402.71 52.45Z" fill="#9c6ee0"/><path d="M410.69 49.64L413.07 52.62L410.69 55.59L408.31 52.62Z" fill="#9c6ee0"/><path d="M416.28 50.25L418.66 53.23L416.28 56.20L413.90 53.23Z" fill="#9c6ee0"/><path d="M421.88 51.17L424.26 54.15L421.88 57.13L419.50 54.15Z" fill="#9c6ee0"/><path d="M427.47 51.88L429.85 54.86L427.47 57.83L425.09 54.86Z" fill="#9c6ee0"/><path d="M433.06 52.94L435.44 55.92L433.06 58.90L430.68 55.92Z" fill="#9c6ee0"/><path d="M438.66 56.64L441.04 59.62L438.66 62.59L436.28 59.62Z" fill="#9c6ee0"/><path d="M444.25 62.77L446.63 65.75L444.25 68.72L441.87 65.75Z" fill="#9c6ee0"/><path d="M449.85 72.82L452.23 75.80L449.85 78.77L447.47 75.80Z" fill="#9c6ee0"/><path d="M455.44 89.93L457.82 92.91L455.44 95.89L453.06 92.91Z" fill="#9c6ee0"/><path d="M461.03 116.58L463.41 119.56L461.03 122.54L458.65 119.56Z" fill="#9c6ee0"/><path d="M466.63 146.20L469.01 149.18L466.63 152.15L464.25 149.18Z" fill="#9c6ee0"/><path d="M472.22 174.66L474.60 177.63L472.22 180.61L469.84 177.63Z" fill="#9c6ee0"/><path d="M477.82 193.69L480.20 196.66L477.82 199.64L475.44 196.66Z" fill="#9c6ee0"/><path d="M483.41 207.37L485.79 210.34L483.41 213.32L481.03 210.34Z" fill="#9c6ee0"/><path d="M489.00 215.68L491.38 218.66L489.00 221.63L486.62 218.66Z" fill="#9c6ee0"/><path d="M494.60 220.54L496.98 223.51L494.60 226.49L492.22 223.51Z" fill="#9c6ee0"/><path d="M500.19 224.44L502.57 227.42L500.19 230.40L497.81 227.42Z" fill="#9c6ee0"/><path d="M505.79 226.51L508.17 229.49L505.79 232.46L503.41 229.49Z" fill="#9c6ee0"/><path d="M511.38 228.06L513.76 231.03L511.38 234.01L509.00 231.03Z" fill="#9c6ee0"/><path d="M516.97 228.67L519.35 231.64L516.97 234.62L514.59 231.64Z" fill="#9c6ee0"/><path d="M522.57 229.00L524.95 231.98L522.57 234.95L520.19 231.98Z" fill="#9c6ee0"/><path d="M528.16 229.21L530.54 232.19L528.16 235.17L525.78 232.19Z" fill="#9c6ee0"/><path d="M533.76 229.38L536.14 232.36L533.76 235.33L531.38 232.36Z" fill="#9c6ee0"/><path d="M539.35 229.51L541.73 232.48L539.35 235.46L536.97 232.48Z" fill="#9c6ee0"/><path d="M544.94 229.59L547.32 232.57L544.94 235.54L542.56 232.57Z" fill="#9c6ee0"/><path d="M550.54 229.65L552.92 232.63L550.54 235.60L548.16 232.63Z" fill="#9c6ee0"/><path d="M556.13 229.71L558.51 232.68L556.13 235.66L553.75 232.68Z" fill="#9c6ee0"/><path d="M561.73 229.76L564.11 232.74L561.73 235.71L559.35 232.74Z" fill="#9c6ee0"/><path d="M567.32 229.81L569.70 232.79L567.32 235.76L564.94 232.79Z" fill="#9c6ee0"/><path d="M572.91 229.86L575.29 232.83L572.91 235.81L570.53 232.83Z" fill="#9c6ee0"/><path d="M578.51 229.90L580.89 232.87L578.51 235.85L576.13 232.87Z" fill="#9c6ee0"/><path d="M584.10 229.93L586.48 232.91L584.10 235.89L581.72 232.91Z" fill="#9c6ee0"/><path d="M589.70 229.97L592.08 232.94L589.70 235.92L587.32 232.94Z" fill="#9c6ee0"/><path d="M595.29 230.00L597.67 232.97L595.29 235.95L592.91 232.97Z" fill="#9c6ee0"/><path d="M600.88 230.02L603.26 233.00L600.88 235.97L598.50 233.00Z" fill="#9c6ee0"/><path d="M606.48 230.04L608.86 233.01L606.48 235.99L604.10 233.01Z" fill="#9c6ee0"/><path d="M612.07 230.05L614.45 233.03L612.07 236.00L609.69 233.03Z" fill="#9c6ee0"/><path d="M617.67 230.06L620.05 233.04L617.67 236.01L615.29 233.04Z" fill="#9c6ee0"/><path d="M623.26 230.06L625.64 233.04L623.26 236.01L620.88 233.04Z" fill="#9c6ee0"/>
<path d="M399.50 54.39L405.09 54.42L410.69 54.50L416.28 54.69L421.88 54.98L427.47 55.29L433.06 55.69L438.66 56.31L444.25 56.98L449.85 58.22L455.44 60.12L461.03 63.08L466.63 67.44L472.22 77.06L477.82 86.84L483.41 102.72L489.00 121.02L494.60 140.93L500.19 157.66L505.79 174.51L511.38 190.20L516.97 201.06L522.57 209.91L528.16 216.36L533.76 221.03L539.35 224.18L544.94 226.59L550.54 228.28L556.13 229.49L561.73 230.35L567.32 230.87L572.91 231.27L578.51 231.63L584.10 231.95L589.70 232.21L595.29 232.44L600.88 232.66L606.48 232.85L612.07 233.03L617.67 233.17L623.26 233.27" fill="none" stroke="#c9a21c" stroke-width="1.0" stroke-dasharray="6.5,3.5" stroke-linejoin="round"/>
<path d="M396.52 54.39L400.99 51.81L400.99 56.96Z" fill="#c9a21c"/><path d="M402.12 54.42L406.58 51.84L406.58 57.00Z" fill="#c9a21c"/><path d="M407.71 54.50L412.18 51.93L412.18 57.08Z" fill="#c9a21c"/><path d="M413.31 54.69L417.77 52.12L417.77 57.27Z" fill="#c9a21c"/><path d="M418.90 54.98L423.36 52.40L423.36 57.55Z" fill="#c9a21c"/><path d="M424.49 55.29L428.96 52.71L428.96 57.87Z" fill="#c9a21c"/><path d="M430.09 55.69L434.55 53.12L434.55 58.27Z" fill="#c9a21c"/><path d="M435.68 56.31L440.15 53.73L440.15 58.89Z" fill="#c9a21c"/><path d="M441.28 56.98L445.74 54.40L445.74 59.56Z" fill="#c9a21c"/><path d="M446.87 58.22L451.33 55.64L451.33 60.80Z" fill="#c9a21c"/><path d="M452.46 60.12L456.93 57.54L456.93 62.69Z" fill="#c9a21c"/><path d="M458.06 63.08L462.52 60.50L462.52 65.66Z" fill="#c9a21c"/><path d="M463.65 67.44L468.12 64.87L468.12 70.02Z" fill="#c9a21c"/><path d="M469.25 77.06L473.71 74.49L473.71 79.64Z" fill="#c9a21c"/><path d="M474.84 86.84L479.30 84.27L479.30 89.42Z" fill="#c9a21c"/><path d="M480.43 102.72L484.90 100.14L484.90 105.29Z" fill="#c9a21c"/><path d="M486.03 121.02L490.49 118.44L490.49 123.59Z" fill="#c9a21c"/><path d="M491.62 140.93L496.09 138.36L496.09 143.51Z" fill="#c9a21c"/><path d="M497.22 157.66L501.68 155.09L501.68 160.24Z" fill="#c9a21c"/><path d="M502.81 174.51L507.27 171.93L507.27 177.09Z" fill="#c9a21c"/><path d="M508.40 190.20L512.87 187.63L512.87 192.78Z" fill="#c9a21c"/><path d="M514.00 201.06L518.46 198.48L518.46 203.64Z" fill="#c9a21c"/><path d="M519.59 209.91L524.06 207.33L524.06 212.49Z" fill="#c9a21c"/><path d="M525.19 216.36L529.65 213.78L529.65 218.93Z" fill="#c9a21c"/><path d="M530.78 221.03L535.24 218.45L535.24 223.61Z" fill="#c9a21c"/><path d="M536.37 224.18L540.84 221.60L540.84 226.75Z" fill="#c9a21c"/><path d="M541.97 226.59L546.43 224.01L546.43 229.17Z" fill="#c9a21c"/><path d="M547.56 228.28L552.03 225.70L552.03 230.86Z" fill="#c9a21c"/><path d="M553.16 229.49L557.62 226.92L557.62 232.07Z" fill="#c9a21c"/><path d="M558.75 230.35L563.21 227.77L563.21 232.93Z" fill="#c9a21c"/><path d="M564.34 230.87L568.81 228.29L568.81 233.45Z" fill="#c9a21c"/><path d="M569.94 231.27L574.40 228.69L574.40 233.85Z" fill="#c9a21c"/><path d="M575.53 231.63L580.00 229.05L580.00 234.21Z" fill="#c9a21c"/><path d="M581.13 231.95L585.59 229.37L585.59 234.52Z" fill="#c9a21c"/><path d="M586.72 232.21L591.18 229.63L591.18 234.79Z" fill="#c9a21c"/><path d="M592.31 232.44L596.78 229.86L596.78 235.02Z" fill="#c9a21c"/><path d="M597.91 232.66L602.37 230.08L602.37 235.23Z" fill="#c9a21c"/><path d="M603.50 232.85L607.97 230.28L607.97 235.43Z" fill="#c9a21c"/><path d="M609.10 233.03L613.56 230.45L613.56 235.60Z" fill="#c9a21c"/><path d="M614.69 233.17L619.15 230.59L619.15 235.75Z" fill="#c9a21c"/><path d="M620.28 233.27L624.75 230.70L624.75 235.85Z" fill="#c9a21c"/>
<path d="M399.50 50.37L405.09 50.46L410.69 50.73L416.28 52.14L421.88 57.10L427.47 72.44L433.06 110.91L438.66 168.72L444.25 207.45L449.85 225.25L455.44 231.27L461.03 233.75L466.63 234.34L472.22 234.44L477.82 234.51L483.41 234.55L489.00 234.57L494.60 234.58L500.19 234.59L505.79 234.60L511.38 234.61L516.97 234.62L522.57 234.63L528.16 234.64L533.76 234.64L539.35 234.65L544.94 234.66L550.54 234.66L556.13 234.67L561.73 234.67L567.32 234.67L572.91 234.68L578.51 234.68L584.10 234.68L589.70 234.68L595.29 234.69L600.88 234.69L606.48 234.69L612.07 234.69L617.67 234.69L623.26 234.69" fill="none" stroke="#22b9c6" stroke-width="1.0" stroke-dasharray="1.5,5.3" stroke-linejoin="round"/>
<path d="M402.48 50.37L398.01 47.80L398.01 52.95Z" fill="#22b9c6"/><path d="M408.07 50.46L403.61 47.89L403.61 53.04Z" fill="#22b9c6"/><path d="M413.66 50.73L409.20 48.15L409.20 53.31Z" fill="#22b9c6"/><path d="M419.26 52.14L414.79 49.57L414.79 54.72Z" fill="#22b9c6"/><path d="M424.85 57.10L420.39 54.52L420.39 59.68Z" fill="#22b9c6"/><path d="M430.45 72.44L425.98 69.86L425.98 75.02Z" fill="#22b9c6"/><path d="M436.04 110.91L431.58 108.33L431.58 113.49Z" fill="#22b9c6"/><path d="M441.63 168.72L437.17 166.14L437.17 171.30Z" fill="#22b9c6"/><path d="M447.23 207.45L442.76 204.87L442.76 210.03Z" fill="#22b9c6"/><path d="M452.82 225.25L448.36 222.67L448.36 227.83Z" fill="#22b9c6"/><path d="M458.42 231.27L453.95 228.69L453.95 233.85Z" fill="#22b9c6"/><path d="M464.01 233.75L459.55 231.17L459.55 236.32Z" fill="#22b9c6"/><path d="M469.60 234.34L465.14 231.76L465.14 236.91Z" fill="#22b9c6"/><path d="M475.20 234.44L470.73 231.87L470.73 237.02Z" fill="#22b9c6"/><path d="M480.79 234.51L476.33 231.94L476.33 237.09Z" fill="#22b9c6"/><path d="M486.39 234.55L481.92 231.98L481.92 237.13Z" fill="#22b9c6"/><path d="M491.98 234.57L487.52 231.99L487.52 237.15Z" fill="#22b9c6"/><path d="M497.57 234.58L493.11 232.01L493.11 237.16Z" fill="#22b9c6"/><path d="M503.17 234.59L498.70 232.02L498.70 237.17Z" fill="#22b9c6"/><path d="M508.76 234.60L504.30 232.03L504.30 237.18Z" fill="#22b9c6"/><path d="M514.36 234.61L509.89 232.04L509.89 237.19Z" fill="#22b9c6"/><path d="M519.95 234.62L515.49 232.04L515.49 237.20Z" fill="#22b9c6"/><path d="M525.54 234.63L521.08 232.05L521.08 237.21Z" fill="#22b9c6"/><path d="M531.14 234.64L526.67 232.06L526.67 237.21Z" fill="#22b9c6"/><path d="M536.73 234.64L532.27 232.07L532.27 237.22Z" fill="#22b9c6"/><path d="M542.33 234.65L537.86 232.07L537.86 237.23Z" fill="#22b9c6"/><path d="M547.92 234.66L543.46 232.08L543.46 237.23Z" fill="#22b9c6"/><path d="M553.51 234.66L549.05 232.08L549.05 237.24Z" fill="#22b9c6"/><path d="M559.11 234.67L554.64 232.09L554.64 237.24Z" fill="#22b9c6"/><path d="M564.70 234.67L560.24 232.09L560.24 237.25Z" fill="#22b9c6"/><path d="M570.30 234.67L565.83 232.10L565.83 237.25Z" fill="#22b9c6"/><path d="M575.89 234.68L571.43 232.10L571.43 237.25Z" fill="#22b9c6"/><path d="M581.48 234.68L577.02 232.10L577.02 237.26Z" fill="#22b9c6"/><path d="M587.08 234.68L582.61 232.10L582.61 237.26Z" fill="#22b9c6"/><path d="M592.67 234.68L588.21 232.11L588.21 237.26Z" fill="#22b9c6"/><path d="M598.27 234.69L593.80 232.11L593.80 237.26Z" fill="#22b9c6"/><path d="M603.86 234.69L599.40 232.11L599.40 237.26Z" fill="#22b9c6"/><path d="M609.45 234.69L604.99 232.11L604.99 237.27Z" fill="#22b9c6"/><path d="M615.05 234.69L610.58 232.11L610.58 237.27Z" fill="#22b9c6"/><path d="M620.64 234.69L616.18 232.11L616.18 237.27Z" fill="#22b9c6"/><path d="M626.24 234.69L621.77 232.11L621.77 237.27Z" fill="#22b9c6"/>
<path d="M399.50 52.38L405.09 52.45L410.69 52.62L416.28 53.23L421.88 54.15L427.47 54.86L433.06 55.92L438.66 59.62L444.25 65.75L449.85 75.80L455.44 92.91L461.03 120.41L466.63 149.99L472.22 178.76L477.82 200.09L483.41 214.08L489.00 222.33L494.60 227.39L500.19 230.97L505.79 233.22L511.38 234.11L516.97 234.57L522.57 234.81L528.16 234.97L533.76 235.04L539.35 235.08L544.94 235.11L550.54 235.13L556.13 235.16L561.73 235.18L567.32 235.20L572.91 235.21L578.51 235.23L584.10 235.24L589.70 235.25L595.29 235.26L600.88 235.27L606.48 235.27L612.07 235.28L617.67 235.28L623.26 235.28" fill="none" stroke="#7a3a44" stroke-width="1.0" stroke-dasharray="1.5,5.3" stroke-linejoin="round"/>
<polygon points="401.92,52.38 400.71,54.48 398.29,54.48 397.08,52.38 398.29,50.28 400.71,50.28" fill="#7a3a44"/><polygon points="407.51,52.45 406.30,54.54 403.88,54.54 402.67,52.45 403.88,50.35 406.30,50.35" fill="#7a3a44"/><polygon points="413.11,52.62 411.90,54.71 409.48,54.71 408.27,52.62 409.48,50.52 411.90,50.52" fill="#7a3a44"/><polygon points="418.70,53.23 417.49,55.32 415.07,55.32 413.86,53.23 415.07,51.13 417.49,51.13" fill="#7a3a44"/><polygon points="424.30,54.15 423.09,56.25 420.67,56.25 419.46,54.15 420.67,52.05 423.09,52.05" fill="#7a3a44"/><polygon points="429.89,54.86 428.68,56.95 426.26,56.95 425.05,54.86 426.26,52.76 428.68,52.76" fill="#7a3a44"/><polygon points="435.48,55.92 434.27,58.02 431.85,58.02 430.64,55.92 431.85,53.82 434.27,53.82" fill="#7a3a44"/><polygon points="441.08,59.62 439.87,61.71 437.45,61.71 436.24,59.62 437.45,57.52 439.87,57.52" fill="#7a3a44"/><polygon points="446.67,65.75 445.46,67.84 443.04,67.84 441.83,65.75 443.04,63.65 445.46,63.65" fill="#7a3a44"/><polygon points="452.27,75.80 451.06,77.89 448.64,77.89 447.43,75.80 448.64,73.70 451.06,73.70" fill="#7a3a44"/><polygon points="457.86,92.91 456.65,95.00 454.23,95.00 453.02,92.91 454.23,90.81 456.65,90.81" fill="#7a3a44"/><polygon points="463.45,120.41 462.24,122.51 459.82,122.51 458.61,120.41 459.82,118.32 462.24,118.32" fill="#7a3a44"/><polygon points="469.05,149.99 467.84,152.09 465.42,152.09 464.21,149.99 465.42,147.90 467.84,147.90" fill="#7a3a44"/><polygon points="474.64,178.76 473.43,180.85 471.01,180.85 469.80,178.76 471.01,176.66 473.43,176.66" fill="#7a3a44"/><polygon points="480.24,200.09 479.03,202.18 476.61,202.18 475.40,200.09 476.61,197.99 479.03,197.99" fill="#7a3a44"/><polygon points="485.83,214.08 484.62,216.18 482.20,216.18 480.99,214.08 482.20,211.99 484.62,211.99" fill="#7a3a44"/><polygon points="491.42,222.33 490.21,224.42 487.79,224.42 486.58,222.33 487.79,220.23 490.21,220.23" fill="#7a3a44"/><polygon points="497.02,227.39 495.81,229.49 493.39,229.49 492.18,227.39 493.39,225.30 495.81,225.30" fill="#7a3a44"/><polygon points="502.61,230.97 501.40,233.06 498.98,233.06 497.77,230.97 498.98,228.87 501.40,228.87" fill="#7a3a44"/><polygon points="508.21,233.22 507.00,235.32 504.58,235.32 503.37,233.22 504.58,231.13 507.00,231.13" fill="#7a3a44"/><polygon points="513.80,234.11 512.59,236.20 510.17,236.20 508.96,234.11 510.17,232.01 512.59,232.01" fill="#7a3a44"/><polygon points="519.39,234.57 518.18,236.67 515.76,236.67 514.55,234.57 515.76,232.48 518.18,232.48" fill="#7a3a44"/><polygon points="524.99,234.81 523.78,236.90 521.36,236.90 520.15,234.81 521.36,232.71 523.78,232.71" fill="#7a3a44"/><polygon points="530.58,234.97 529.37,237.06 526.95,237.06 525.74,234.97 526.95,232.87 529.37,232.87" fill="#7a3a44"/><polygon points="536.18,235.04 534.97,237.14 532.55,237.14 531.34,235.04 532.55,232.95 534.97,232.95" fill="#7a3a44"/><polygon points="541.77,235.08 540.56,237.17 538.14,237.17 536.93,235.08 538.14,232.98 540.56,232.98" fill="#7a3a44"/><polygon points="547.36,235.11 546.15,237.20 543.73,237.20 542.52,235.11 543.73,233.01 546.15,233.01" fill="#7a3a44"/><polygon points="552.96,235.13 551.75,237.23 549.33,237.23 548.12,235.13 549.33,233.04 551.75,233.04" fill="#7a3a44"/><polygon points="558.55,235.16 557.34,237.25 554.92,237.25 553.71,235.16 554.92,233.06 557.34,233.06" fill="#7a3a44"/><polygon points="564.15,235.18 562.94,237.27 560.52,237.27 559.31,235.18 560.52,233.08 562.94,233.08" fill="#7a3a44"/><polygon points="569.74,235.20 568.53,237.29 566.11,237.29 564.90,235.20 566.11,233.10 568.53,233.10" fill="#7a3a44"/><polygon points="575.33,235.21 574.12,237.31 571.70,237.31 570.49,235.21 571.70,233.12 574.12,233.12" fill="#7a3a44"/><polygon points="580.93,235.23 579.72,237.32 577.30,237.32 576.09,235.23 577.30,233.13 579.72,233.13" fill="#7a3a44"/><polygon points="586.52,235.24 585.31,237.34 582.89,237.34 581.68,235.24 582.89,233.15 585.31,233.15" fill="#7a3a44"/><polygon points="592.12,235.25 590.91,237.35 588.49,237.35 587.28,235.25 588.49,233.16 590.91,233.16" fill="#7a3a44"/><polygon points="597.71,235.26 596.50,237.36 594.08,237.36 592.87,235.26 594.08,233.17 596.50,233.17" fill="#7a3a44"/><polygon points="603.30,235.27 602.09,237.36 599.67,237.36 598.46,235.27 599.67,233.17 602.09,233.17" fill="#7a3a44"/><polygon points="608.90,235.27 607.69,237.37 605.27,237.37 604.06,235.27 605.27,233.18 607.69,233.18" fill="#7a3a44"/><polygon points="614.49,235.28 613.28,237.37 610.86,237.37 609.65,235.28 610.86,233.18 613.28,233.18" fill="#7a3a44"/><polygon points="620.09,235.28 618.88,237.38 616.46,237.38 615.25,235.28 616.46,233.18 618.88,233.18" fill="#7a3a44"/><polygon points="625.68,235.28 624.47,237.38 622.05,237.38 620.84,235.28 622.05,233.18 624.47,233.18" fill="#7a3a44"/>
<path d="M399.50 54.39L405.09 54.42L410.69 54.50L416.28 54.69L421.88 54.98L427.47 55.29L433.06 55.69L438.66 56.31L444.25 56.98L449.85 58.22L455.44 60.12L461.03 63.08L466.63 67.44L472.22 77.06L477.82 86.84L483.41 102.71L489.00 121.14L494.60 142.34L500.19 160.16L505.79 178.05L511.38 193.04L516.97 204.60L522.57 213.80L528.16 220.77L533.76 225.62L539.35 228.53L544.94 230.82L550.54 232.15L556.13 232.96L561.73 233.51L567.32 233.88L572.91 234.15L578.51 234.34L584.10 234.46L589.70 234.57L595.29 234.67L600.88 234.76L606.48 234.83L612.07 234.88L617.67 234.91L623.26 234.93" fill="none" stroke="#979318" stroke-width="1.0" stroke-dasharray="1.5,5.3" stroke-linejoin="round"/>
<polygon points="399.50,51.27 400.33,53.25 402.47,53.42 400.84,54.82 401.33,56.91 399.50,55.79 397.67,56.91 398.16,54.82 396.53,53.42 398.67,53.25" fill="#979318"/><polygon points="405.09,51.30 405.92,53.29 408.06,53.46 406.43,54.86 406.93,56.95 405.09,55.83 403.26,56.95 403.76,54.86 402.13,53.46 404.27,53.29" fill="#979318"/><polygon points="410.69,51.38 411.51,53.37 413.66,53.54 412.02,54.94 412.52,57.03 410.69,55.91 408.85,57.03 409.35,54.94 407.72,53.54 409.86,53.37" fill="#979318"/><polygon points="416.28,51.57 417.11,53.56 419.25,53.73 417.62,55.13 418.12,57.22 416.28,56.10 414.45,57.22 414.95,55.13 413.31,53.73 415.46,53.56" fill="#979318"/><polygon points="421.88,51.86 422.70,53.84 424.84,54.01 423.21,55.41 423.71,57.50 421.88,56.38 420.04,57.50 420.54,55.41 418.91,54.01 421.05,53.84" fill="#979318"/><polygon points="427.47,52.17 428.30,54.15 430.44,54.32 428.81,55.72 429.30,57.81 427.47,56.69 425.64,57.81 426.13,55.72 424.50,54.32 426.64,54.15" fill="#979318"/><polygon points="433.06,52.57 433.89,54.56 436.03,54.73 434.40,56.13 434.90,58.22 433.06,57.10 431.23,58.22 431.73,56.13 430.10,54.73 432.24,54.56" fill="#979318"/><polygon points="438.66,53.19 439.48,55.18 441.63,55.35 439.99,56.75 440.49,58.84 438.66,57.72 436.82,58.84 437.32,56.75 435.69,55.35 437.83,55.18" fill="#979318"/><polygon points="444.25,53.86 445.08,55.85 447.22,56.02 445.59,57.42 446.09,59.51 444.25,58.39 442.42,59.51 442.92,57.42 441.28,56.02 443.43,55.85" fill="#979318"/><polygon points="449.85,55.10 450.67,57.09 452.81,57.26 451.18,58.66 451.68,60.75 449.85,59.63 448.01,60.75 448.51,58.66 446.88,57.26 449.02,57.09" fill="#979318"/><polygon points="455.44,57.00 456.27,58.98 458.41,59.15 456.78,60.55 457.27,62.64 455.44,61.52 453.61,62.64 454.10,60.55 452.47,59.15 454.61,58.98" fill="#979318"/><polygon points="461.03,59.96 461.86,61.95 464.00,62.12 462.37,63.52 462.87,65.61 461.03,64.49 459.20,65.61 459.70,63.52 458.07,62.12 460.21,61.95" fill="#979318"/><polygon points="466.63,64.32 467.45,66.31 469.60,66.48 467.96,67.88 468.46,69.97 466.63,68.85 464.79,69.97 465.29,67.88 463.66,66.48 465.80,66.31" fill="#979318"/><polygon points="472.22,73.94 473.05,75.93 475.19,76.10 473.56,77.50 474.06,79.59 472.22,78.47 470.39,79.59 470.89,77.50 469.25,76.10 471.40,75.93" fill="#979318"/><polygon points="477.82,83.72 478.64,85.71 480.78,85.88 479.15,87.28 479.65,89.37 477.82,88.25 475.98,89.37 476.48,87.28 474.85,85.88 476.99,85.71" fill="#979318"/><polygon points="483.41,99.59 484.24,101.58 486.38,101.75 484.75,103.15 485.24,105.24 483.41,104.12 481.58,105.24 482.07,103.15 480.44,101.75 482.58,101.58" fill="#979318"/><polygon points="489.00,118.02 489.83,120.00 491.97,120.17 490.34,121.57 490.84,123.66 489.00,122.54 487.17,123.66 487.67,121.57 486.04,120.17 488.18,120.00" fill="#979318"/><polygon points="494.60,139.22 495.42,141.21 497.57,141.38 495.93,142.78 496.43,144.87 494.60,143.75 492.76,144.87 493.26,142.78 491.63,141.38 493.77,141.21" fill="#979318"/><polygon points="500.19,157.04 501.02,159.03 503.16,159.20 501.53,160.60 502.03,162.69 500.19,161.57 498.36,162.69 498.86,160.60 497.22,159.20 499.37,159.03" fill="#979318"/><polygon points="505.79,174.93 506.61,176.91 508.75,177.09 507.12,178.48 507.62,180.57 505.79,179.45 503.95,180.57 504.45,178.48 502.82,177.09 504.96,176.91" fill="#979318"/><polygon points="511.38,189.92 512.21,191.90 514.35,192.07 512.72,193.47 513.21,195.56 511.38,194.44 509.55,195.56 510.04,193.47 508.41,192.07 510.55,191.90" fill="#979318"/><polygon points="516.97,201.48 517.80,203.46 519.94,203.64 518.31,205.03 518.81,207.12 516.97,206.00 515.14,207.12 515.64,205.03 514.01,203.64 516.15,203.46" fill="#979318"/><polygon points="522.57,210.68 523.39,212.67 525.54,212.84 523.90,214.24 524.40,216.33 522.57,215.21 520.73,216.33 521.23,214.24 519.60,212.84 521.74,212.67" fill="#979318"/><polygon points="528.16,217.65 528.99,219.63 531.13,219.80 529.50,221.20 530.00,223.29 528.16,222.17 526.33,223.29 526.83,221.20 525.19,219.80 527.34,219.63" fill="#979318"/><polygon points="533.76,222.50 534.58,224.48 536.72,224.65 535.09,226.05 535.59,228.14 533.76,227.02 531.92,228.14 532.42,226.05 530.79,224.65 532.93,224.48" fill="#979318"/><polygon points="539.35,225.41 540.18,227.39 542.32,227.57 540.69,228.96 541.18,231.05 539.35,229.93 537.52,231.05 538.01,228.96 536.38,227.57 538.52,227.39" fill="#979318"/><polygon points="544.94,227.70 545.77,229.68 547.91,229.85 546.28,231.25 546.78,233.34 544.94,232.22 543.11,233.34 543.61,231.25 541.98,229.85 544.12,229.68" fill="#979318"/><polygon points="550.54,229.03 551.36,231.02 553.51,231.19 551.87,232.58 552.37,234.68 550.54,233.55 548.70,234.68 549.20,232.58 547.57,231.19 549.71,231.02" fill="#979318"/><polygon points="556.13,229.84 556.96,231.83 559.10,232.00 557.47,233.40 557.97,235.49 556.13,234.37 554.30,235.49 554.80,233.40 553.16,232.00 555.31,231.83" fill="#979318"/><polygon points="561.73,230.39 562.55,232.37 564.69,232.55 563.06,233.94 563.56,236.03 561.73,234.91 559.89,236.03 560.39,233.94 558.76,232.55 560.90,232.37" fill="#979318"/><polygon points="567.32,230.76 568.15,232.74 570.29,232.91 568.66,234.31 569.15,236.40 567.32,235.28 565.49,236.40 565.98,234.31 564.35,232.91 566.49,232.74" fill="#979318"/><polygon points="572.91,231.03 573.74,233.02 575.88,233.19 574.25,234.59 574.75,236.68 572.91,235.56 571.08,236.68 571.58,234.59 569.95,233.19 572.09,233.02" fill="#979318"/><polygon points="578.51,231.22 579.33,233.20 581.48,233.37 579.84,234.77 580.34,236.86 578.51,235.74 576.67,236.86 577.17,234.77 575.54,233.37 577.68,233.20" fill="#979318"/><polygon points="584.10,231.34 584.93,233.32 587.07,233.49 585.44,234.89 585.94,236.98 584.10,235.86 582.27,236.98 582.77,234.89 581.13,233.49 583.28,233.32" fill="#979318"/><polygon points="589.70,231.45 590.52,233.44 592.66,233.61 591.03,235.01 591.53,237.10 589.70,235.98 587.86,237.10 588.36,235.01 586.73,233.61 588.87,233.44" fill="#979318"/><polygon points="595.29,231.55 596.12,233.54 598.26,233.71 596.63,235.11 597.12,237.20 595.29,236.08 593.46,237.20 593.95,235.11 592.32,233.71 594.46,233.54" fill="#979318"/><polygon points="600.88,231.64 601.71,233.62 603.85,233.79 602.22,235.19 602.72,237.28 600.88,236.16 599.05,237.28 599.55,235.19 597.92,233.79 600.06,233.62" fill="#979318"/><polygon points="606.48,231.71 607.30,233.69 609.45,233.86 607.81,235.26 608.31,237.35 606.48,236.23 604.64,237.35 605.14,235.26 603.51,233.86 605.65,233.69" fill="#979318"/><polygon points="612.07,231.76 612.90,233.75 615.04,233.92 613.41,235.32 613.91,237.41 612.07,236.29 610.24,237.41 610.74,235.32 609.10,233.92 611.25,233.75" fill="#979318"/><polygon points="617.67,231.79 618.49,233.78 620.63,233.95 619.00,235.35 619.50,237.44 617.67,236.32 615.83,237.44 616.33,235.35 614.70,233.95 616.84,233.78" fill="#979318"/><polygon points="623.26,231.81 624.09,233.79 626.23,233.96 624.60,235.36 625.09,237.45 623.26,236.33 621.43,237.45 621.92,235.36 620.29,233.96 622.43,233.79" fill="#979318"/>
</g>
<line x1="553.1" y1="37.70" x2="577" y2="37.70" stroke="#3a3a3a" stroke-width="1.2"/>
<rect x="563.20" y="35.80" width="3.80" height="3.80" fill="#3a3a3a"/>
<text x="579.8" y="41.20" font-size="10.65" fill="#1a1a1a">d<tspan font-size="7.5" dy="2.8">SL</tspan><tspan dy="-2.8">=10nm@</tspan><tspan font-family="Liberation Serif, serif" font-size="10">τ</tspan>=13fs</text>
<line x1="553.1" y1="54.29" x2="577" y2="54.29" stroke="#e23a40" stroke-width="1.2"/>
<circle cx="565.10" cy="54.29" r="2.10" fill="#e23a40"/>
<text x="579.8" y="57.79" font-size="10.65" fill="#1a1a1a">d<tspan font-size="7.5" dy="2.8">SL</tspan><tspan dy="-2.8">=20nm@</tspan><tspan font-family="Liberation Serif, serif" font-size="10">τ</tspan>=13fs</text>
<line x1="553.1" y1="70.88" x2="577" y2="70.88" stroke="#2266cc" stroke-width="1.2"/>
<path d="M565.10 67.90L567.68 72.37L562.52 72.37Z" fill="#2266cc"/>
<text x="579.8" y="74.38" font-size="10.65" fill="#1a1a1a">d<tspan font-size="7.5" dy="2.8">SL</tspan><tspan dy="-2.8">=30nm@</tspan><tspan font-family="Liberation Serif, serif" font-size="10">τ</tspan>=13fs</text>
<line x1="553.1" y1="87.47" x2="577" y2="87.47" stroke="#2f9e68" stroke-width="1.2" stroke-dasharray="5.7,4,7.5,5.7,1.5,10"/>
<path d="M565.10 90.45L567.68 85.98L562.52 85.98Z" fill="#2f9e68"/>
<text x="579.8" y="90.97" font-size="10.65" fill="#1a1a1a">d<tspan font-size="7.5" dy="2.8">SL</tspan><tspan dy="-2.8">=10nm@</tspan><tspan font-family="Liberation Serif, serif" font-size="10">τ</tspan>=65fs</text>
<line x1="553.1" y1="104.06" x2="577" y2="104.06" stroke="#9c6ee0" stroke-width="1.2" stroke-dasharray="5.7,4,7.5,5.7,1.5,10"/>
<path d="M565.10 101.08L567.48 104.06L565.10 107.04L562.72 104.06Z" fill="#9c6ee0"/>
<text x="579.8" y="107.56" font-size="10.65" fill="#1a1a1a">d<tspan font-size="7.5" dy="2.8">SL</tspan><tspan dy="-2.8">=20nm@</tspan><tspan font-family="Liberation Serif, serif" font-size="10">τ</tspan>=65fs</text>
<line x1="553.1" y1="120.65" x2="577" y2="120.65" stroke="#c9a21c" stroke-width="1.2" stroke-dasharray="5.7,4,7.5,5.7,1.5,10"/>
<path d="M562.12 120.65L566.59 118.07L566.59 123.23Z" fill="#c9a21c"/>
<text x="579.8" y="124.15" font-size="10.65" fill="#1a1a1a">d<tspan font-size="7.5" dy="2.8">SL</tspan><tspan dy="-2.8">=30nm@</tspan><tspan font-family="Liberation Serif, serif" font-size="10">τ</tspan>=65fs</text>
<line x1="553.1" y1="137.24" x2="577" y2="137.24" stroke="#22b9c6" stroke-width="1.2" stroke-dasharray="1.5,5.3" stroke-dashoffset="-0.6"/>
<path d="M568.08 137.24L563.61 134.66L563.61 139.82Z" fill="#22b9c6"/>
<text x="579.8" y="140.74" font-size="10.65" fill="#1a1a1a">d<tspan font-size="7.5" dy="2.8">SL</tspan><tspan dy="-2.8">=10nm@</tspan><tspan font-family="Liberation Serif, serif" font-size="10">τ</tspan>=100fs</text>
<line x1="553.1" y1="153.83" x2="577" y2="153.83" stroke="#7a3a44" stroke-width="1.2" stroke-dasharray="1.5,5.3" stroke-dashoffset="-0.6"/>
<polygon points="567.52,153.83 566.31,155.93 563.89,155.93 562.68,153.83 563.89,151.73 566.31,151.73" fill="#7a3a44"/>
<text x="579.8" y="157.33" font-size="10.65" fill="#1a1a1a">d<tspan font-size="7.5" dy="2.8">SL</tspan><tspan dy="-2.8">=20nm@</tspan><tspan font-family="Liberation Serif, serif" font-size="10">τ</tspan>=100fs</text>
<line x1="553.1" y1="170.42" x2="577" y2="170.42" stroke="#979318" stroke-width="1.2" stroke-dasharray="1.5,5.3" stroke-dashoffset="-0.6"/>
<polygon points="565.10,167.30 565.93,169.28 568.07,169.46 566.44,170.85 566.93,172.94 565.10,171.82 563.27,172.94 563.76,170.85 562.13,169.46 564.27,169.28" fill="#979318"/>
<text x="579.8" y="173.92" font-size="10.65" fill="#1a1a1a">d<tspan font-size="7.5" dy="2.8">SL</tspan><tspan dy="-2.8">=30nm@</tspan><tspan font-family="Liberation Serif, serif" font-size="10">τ</tspan>=100fs</text>
<text x="33.3" y="12.0" font-weight="bold" font-size="14.8" fill="#1a1a1a">(a)</text>
<text x="359.5" y="11.8" font-weight="bold" font-size="14.8" fill="#1a1a1a">(b)</text>
<text x="179.8" y="289.5" text-anchor="middle" font-weight="bold" font-size="13.9" fill="#1a1a1a" stroke="#1a1a1a" stroke-width="0.35">Chemical Potential (eV)</text>
<text x="539" y="289.5" text-anchor="middle" font-weight="bold" font-size="13.9" fill="#1a1a1a" stroke="#1a1a1a" stroke-width="0.35">Voltage |V-V<tspan font-size="9.5" dy="3">dirac</tspan><tspan dy="-3">| (V)</tspan></text>
<text transform="translate(13.3,140.3) rotate(-90)" text-anchor="middle" font-weight="bold" font-size="13.9" fill="#1a1a1a" stroke="#1a1a1a" stroke-width="0.35">Voltage |V-V<tspan font-size="9.5" dy="3">direc</tspan><tspan dy="-3">| (V)</tspan></text>
<text transform="translate(366.0,138.9) rotate(-90)" text-anchor="middle" font-weight="bold" font-size="13.9" fill="#1a1a1a" stroke="#1a1a1a" stroke-width="0.35">Absorption (dB/μm)</text>
</svg>
</body></html>
